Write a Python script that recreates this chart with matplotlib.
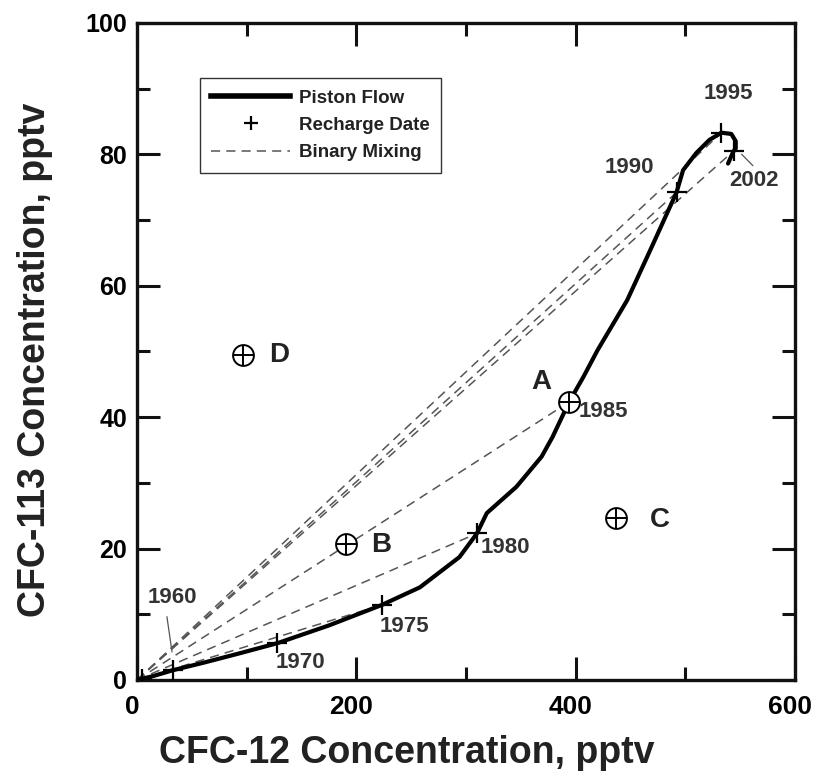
import matplotlib
matplotlib.use("Agg")
import matplotlib.pyplot as plt
from matplotlib.lines import Line2D
from matplotlib.ticker import MultipleLocator
from matplotlib.transforms import ScaledTranslation

plt.rcParams['font.family'] = ['Liberation Sans', 'DejaVu Sans']
plt.rcParams['font.weight'] = 'bold'

# piston flow curve (CFC-12 vs CFC-113)
piston_x = [0, 5, 15, 33, 60, 90, 128, 175, 223, 258, 294, 310, 319, 346, 369, 379,
            394, 407, 420, 447, 468, 492, 498, 510, 522, 533, 542, 546, 546, 544, 539]
piston_y = [0, 0.2, 0.6, 1.5, 2.6, 3.9, 5.6, 8.3, 11.4, 14.1, 18.7, 22.3, 25.4, 29.4, 34, 37,
            42.3, 46.1, 50.2, 57.8, 65.4, 74.2, 77.6, 80.2, 82.2, 83.3, 83.1, 82.0, 80.9, 80.5, 78.6]

# recharge dates on the curve
rech_x = [5, 33, 128, 223, 310, 492, 533, 544]
rech_y = [0.2, 1.5, 5.6, 11.4, 22.3, 74.2, 83.3, 80.5]

# binary mixing end members (origin to these years)
mix_x = [128, 223, 310, 394, 492, 533, 544]
mix_y = [5.6, 11.4, 22.3, 42.3, 74.2, 83.3, 80.5]

# year labels
year_text = ['1960', '1970', '1975', '1980', '1985', '1990', '1995', '2002']
year_x = [32, 149, 244, 336, 425, 449, 539, 563]
year_y = [12.6, 2.7, 8.1, 20.1, 40.8, 78, 89.2, 76]

# samples
samp_name = ['A', 'B', 'C', 'D']
samp_x = [394, 191, 437, 97]
samp_y = [42.3, 20.7, 24.6, 49.4]
samp_lx = [369, 223, 477, 130]
samp_ly = [45.4, 20.5, 24.3, 49.4]

fig = plt.figure(figsize=(8.17, 7.78), dpi=100)
ax = fig.add_axes([0.1677, 0.126, 0.8053, 0.8445])

for mx, my in zip(mix_x, mix_y):
    ax.plot([0, mx], [0, my], color='#555555', lw=1.1, dashes=(6, 4), zorder=2)

ax.plot(piston_x, piston_y, color='black', lw=3, solid_capstyle='round', zorder=3)
ax.plot(rech_x, rech_y, ls='none', marker='+', ms=15, mew=1.6, color='black', zorder=4)

ax.plot(samp_x, samp_y, ls='none', marker='o', ms=15, mfc='white', mec='black', mew=1.4, zorder=5)
ax.plot(samp_x, samp_y, ls='none', marker='+', ms=15, mew=1.4, color='black', zorder=6)
for n, lx, ly in zip(samp_name, samp_lx, samp_ly):
    ax.text(lx, ly, n, fontsize=20, fontweight='bold', ha='center', va='center', color='#222222')

for t, tx, ty in zip(year_text, year_x, year_y):
    ax.text(tx, ty, t, fontsize=16, fontweight='bold', ha='center', va='center', color='#333333',
            zorder=7)

# leader lines
ax.plot([27.3, 31.9], [9.6, 4.3], color='#555555', lw=0.9)
ax.plot([551.5, 561.5], [80.0, 78.3], color='#555555', lw=0.9)

ax.set_xlim(0, 600)
ax.set_ylim(0, 100)
ax.xaxis.set_major_locator(MultipleLocator(200))
ax.xaxis.set_minor_locator(MultipleLocator(100))
ax.yaxis.set_major_locator(MultipleLocator(20))
ax.yaxis.set_minor_locator(MultipleLocator(10))
ax.tick_params(which='both', direction='in', top=True, right=True, width=2.2, color='#111111')
ax.tick_params(which='major', length=16.5)
ax.tick_params(which='minor', length=9.4)
ax.tick_params(axis='x', pad=11, labelsize=19)
ax.tick_params(axis='y', pad=7, labelsize=18)
shift = ScaledTranslation(-5 / 100, 0, fig.dpi_scale_trans)
for lab in ax.get_xticklabels():
    lab.set_fontweight('bold')
    lab.set_transform(lab.get_transform() + shift)
for lab in ax.get_yticklabels():
    lab.set_fontweight('bold')
for sp in ax.spines.values():
    sp.set_linewidth(2.4)
    sp.set_color('#111111')

ax.set_xlabel('CFC-12 Concentration, pptv', fontsize=27, fontweight='bold', color='#222222')
ax.set_ylabel('CFC-113 Concentration, pptv', fontsize=27, fontweight='bold', color='#222222')
ax.xaxis.set_label_coords(0.41, -0.083)
ax.yaxis.set_label_coords(-0.128, 0.487)

handles = [Line2D([], [], color='black', lw=4),
           Line2D([], [], ls='none', marker='+', ms=10, mew=1.6, color='black'),
           Line2D([], [], color='#555555', lw=1.1, dashes=(6, 4))]
leg = ax.legend(handles, ['Piston Flow', 'Recharge Date', 'Binary Mixing'],
                loc='upper left', bbox_to_anchor=(0.096, 0.916), borderaxespad=0,
                fontsize=13.5, handlelength=4.2, handletextpad=0.45, labelspacing=0.55,
                borderpad=0.6, fancybox=False, framealpha=1, edgecolor='#333333')
leg.get_frame().set_linewidth(1.0)
for t in leg.get_texts():
    t.set_fontweight('bold')
    t.set_color('#222222')

fig.savefig('out.png', dpi=100)
